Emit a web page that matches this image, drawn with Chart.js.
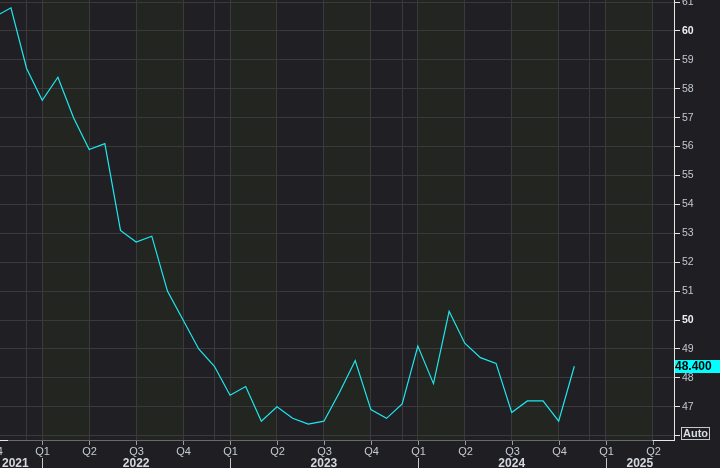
<!DOCTYPE html>
<html>
<head>
<meta charset="utf-8">
<script src="https://cdn.jsdelivr.net/npm/chart.js@4/dist/chart.umd.min.js"></script>
<style>
  html, body { margin: 0; padding: 0; background: #1f1e22; }
  #wrap { width: 720px; height: 468px; position: relative; }
</style>
</head>
<body>
<div id="wrap"><canvas id="pmiChart"></canvas></div>
<script>
// monthly readings, first of month
const months = [
    '2021-10', '2021-11', '2021-12',
    '2022-01', '2022-02', '2022-03', '2022-04', '2022-05', '2022-06',
    '2022-07', '2022-08', '2022-09', '2022-10', '2022-11', '2022-12',
    '2023-01', '2023-02', '2023-03', '2023-04', '2023-05', '2023-06',
    '2023-07', '2023-08', '2023-09', '2023-10', '2023-11', '2023-12',
    '2024-01', '2024-02', '2024-03', '2024-04', '2024-05', '2024-06',
    '2024-07', '2024-08', '2024-09', '2024-10', '2024-11'
];
const values = [
    60.5, 60.8, 58.7,
    57.6, 58.4, 57.0, 55.9, 56.1, 53.1,
    52.7, 52.9, 51.0, 50.0, 49.0, 48.4,
    47.4, 47.7, 46.5, 47.0, 46.6, 46.4,
    46.5, 47.5, 48.6, 46.9, 46.6, 47.1,
    49.1, 47.8, 50.3, 49.2, 48.7, 48.5,
    46.8, 47.2, 47.2, 46.5, 48.4
];

// x axis: quarter starts and their labels, year labels, extra december lines
const quarterStarts = [
    '2021-10', '2022-01', '2022-04', '2022-07', '2022-10',
    '2023-01', '2023-04', '2023-07', '2023-10',
    '2024-01', '2024-04', '2024-07', '2024-10',
    '2025-01', '2025-04'
];
const quarterLabels = ['Q4', 'Q1', 'Q2', 'Q3', 'Q4', 'Q1', 'Q2', 'Q3', 'Q4', 'Q1', 'Q2', 'Q3', 'Q4', 'Q1', 'Q2'];
const yearLabels = ['2021', '2022', '2023', '2024', '2025'];
const decemberLines = ['2021-12', '2022-12', '2023-12', '2024-12'];

const lastLabel = '48.400';

function monthIndex(s) {
    const [y, m] = s.split('-').map(Number);
    return (y - 2022) * 12 + (m - 1);
}

const X_MIN = -2.7, X_MAX = 40.37;
const FONT = '"Liberation Sans", Arial, sans-serif';

const backdrop = {
    id: 'backdrop',
    beforeDraw(chart) {
        const { ctx, chartArea: a, scales: { x } } = chart;
        ctx.save();
        ctx.fillStyle = '#1f1e22';
        ctx.fillRect(0, 0, chart.width, chart.height);
        ctx.beginPath();
        ctx.rect(a.left, a.top, a.right - a.left, a.bottom - a.top);
        ctx.clip();
        quarterStarts.forEach((q, i) => {
            const x0 = x.getPixelForValue(monthIndex(q));
            const x1 = x.getPixelForValue(monthIndex(q) + 3);
            const odd = quarterLabels[i] === 'Q1' || quarterLabels[i] === 'Q3';
            ctx.fillStyle = odd ? '#232521' : '#201f23';
            ctx.fillRect(Math.round(x0), a.top, Math.round(x1) - Math.round(x0), a.bottom - a.top);
        });
        ctx.restore();
    }
};

const decorations = {
    id: 'decorations',
    afterDraw(chart) {
        const { ctx, chartArea: a, scales: { x, y } } = chart;
        ctx.save();

        // bottom axis line
        const by = a.bottom + 0.5;
        ctx.strokeStyle = '#6a6a6c';
        ctx.lineWidth = 1;
        ctx.beginPath(); ctx.moveTo(a.left, by); ctx.lineTo(a.right, by); ctx.stroke();
        ctx.strokeStyle = '#e6e6e6';
        ctx.beginPath(); ctx.moveTo(a.left, by); ctx.lineTo(a.left + 8, by); ctx.stroke();
        ctx.beginPath(); ctx.moveTo(x.getPixelForValue(monthIndex('2025-04')), by); ctx.lineTo(a.right, by); ctx.stroke();

        // quarter ticks, labels, year separators
        ctx.font = '11px ' + FONT;
        ctx.textAlign = 'center';
        ctx.textBaseline = 'middle';
        quarterStarts.forEach((q, i) => {
            const px = Math.round(x.getPixelForValue(monthIndex(q))) + 0.5;
            ctx.strokeStyle = '#9a9a9c';
            ctx.beginPath(); ctx.moveTo(px, a.bottom + 1); ctx.lineTo(px, a.bottom + 5); ctx.stroke();
            ctx.fillStyle = '#c4cad4';
            ctx.fillText(quarterLabels[i], px, a.bottom + 12);
            if (quarterLabels[i] === 'Q1') {
                ctx.strokeStyle = '#c8c8c8';
                ctx.beginPath(); ctx.moveTo(px, a.bottom + 18); ctx.lineTo(px, chart.height); ctx.stroke();
            }
        });

        ctx.font = 'bold 12px ' + FONT;
        ctx.fillStyle = '#d4d8e0';
        yearLabels.forEach(yr => {
            const s = x.getPixelForValue(monthIndex(yr + '-01'));
            const e = x.getPixelForValue(monthIndex(yr + '-01') + 12);
            if (s < a.left) {
                ctx.textAlign = 'left';
                ctx.fillText(yr, a.left + 2, a.bottom + 24);
            } else {
                ctx.textAlign = 'center';
                ctx.fillText(yr, (s + Math.min(e, a.right)) / 2, a.bottom + 24);
            }
        });

        // last value tag
        const ly = y.getPixelForValue(values[values.length - 1]);
        ctx.fillStyle = '#00ffff';
        ctx.fillRect(a.right + 1, Math.round(ly) - 6, chart.width - a.right - 1, 13);
        ctx.fillStyle = '#000000';
        ctx.font = 'bold 12px ' + FONT;
        ctx.textAlign = 'left';
        ctx.fillText(lastLabel, a.right + 1, Math.round(ly) + 0.5);

        // Auto box
        ctx.fillStyle = '#1f1e22';
        ctx.fillRect(681, 427, 29, 13);
        ctx.strokeStyle = '#c8c8c8';
        ctx.strokeRect(681.5, 427.5, 28, 12);
        ctx.fillStyle = '#d8dce4';
        ctx.font = 'bold 11px ' + FONT;
        ctx.textAlign = 'center';
        ctx.fillText('Auto', 695.5, 434);

        ctx.restore();
    }
};

const gridMonths = quarterStarts.concat(decemberLines).map(monthIndex)
    .filter(v => v >= X_MIN && v <= X_MAX);

new Chart(document.getElementById('pmiChart'), {
    type: 'line',
    data: {
        datasets: [{
            data: months.map((m, i) => ({ x: monthIndex(m), y: values[i] })),
            borderColor: '#1ee8f0',
            borderWidth: 1.2,
            pointRadius: 0,
            tension: 0,
            fill: false
        }]
    },
    options: {
        responsive: true,
        maintainAspectRatio: false,
        animation: false,
        layout: { padding: 0 },
        plugins: {
            legend: { display: false },
            tooltip: { enabled: false }
        },
        scales: {
            x: {
                type: 'linear',
                min: X_MIN,
                max: X_MAX,
                afterBuildTicks: scale => {
                    scale.ticks = gridMonths.map(v => ({ value: v }));
                },
                afterFit: scale => {
                    scale.height = 28;
                    scale.paddingLeft = 0;
                    scale.paddingRight = 0;
                },
                grid: {
                    color: '#3a3a3c',
                    drawTicks: false
                },
                border: { display: false },
                ticks: { display: false }
            },
            y: {
                position: 'right',
                min: 45.85,
                max: 61.07,
                afterFit: scale => {
                    scale.width = 46;
                    scale.paddingTop = 0;
                    scale.paddingBottom = 0;
                },
                grid: {
                    color: '#3a3a3c',
                    tickColor: '#e6e6e6',
                    tickLength: 6
                },
                border: { color: '#e6e6e6' },
                ticks: {
                    stepSize: 1,
                    includeBounds: false,
                    padding: 2,
                    color: ctx => ctx.tick.value % 10 === 0 ? '#eef0f4' : '#c0c8d4',
                    font: ctx => ({
                        family: FONT,
                        size: 10.5,
                        weight: ctx.tick && ctx.tick.value % 10 === 0 ? 'bold' : 'normal'
                    })
                }
            }
        }
    },
    plugins: [backdrop, decorations]
});
</script>
</body>
</html>
